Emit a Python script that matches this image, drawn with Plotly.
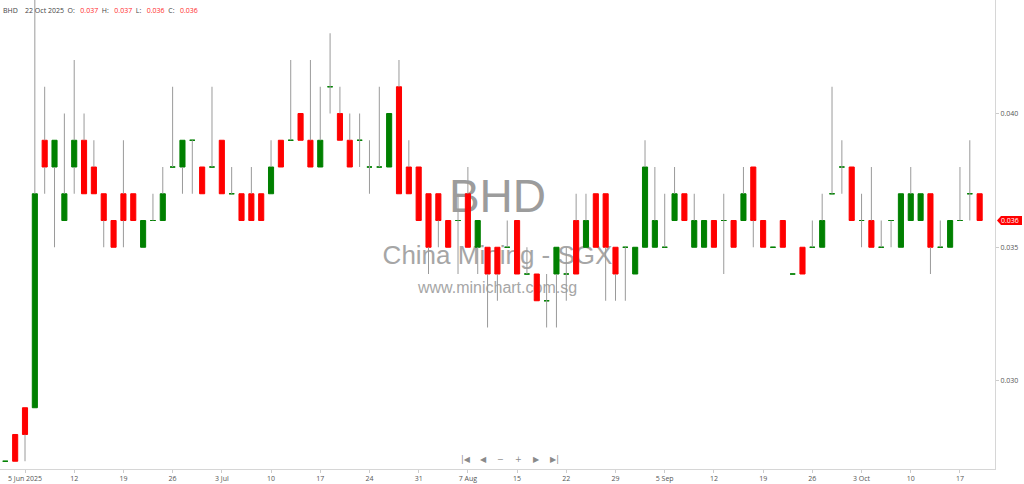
import pandas as pd
import plotly.graph_objects as go

# ---------------- data: BHD daily OHLC, 3 Jun - 22 Oct 2025 ----------------
holidays = ["2025-08-11", "2025-10-20"]
dates = pd.bdate_range("2025-06-03", "2025-10-22", freq="C", holidays=holidays).strftime("%Y-%m-%d").tolist()

open_ = [
    .027, .028, .029, .029, .039, .038, .036, .038, .039, .038,
    .037, .036, .037, .037, .035, .036, .036, .038, .038, .039,
    .038, .038, .039, .037, .037, .037, .037, .037, .039, .039,
    .040, .039, .038, .041, .040, .039, .039, .038, .038, .038,
    .041, .038, .038, .037, .037, .036, .036, .037, .035, .035,
    .035, .035, .036, .034, .034, .033, .034, .034, .036, .035,
    .037, .037, .035, .035, .034, .035, .035, .035, .036, .037,
    .035, .035, .036, .036, .036, .036, .038, .036, .035, .036,
    .034, .035, .035, .035, .037, .038, .038, .036, .036, .035,
    .036, .035, .036, .036, .037, .035, .035, .036, .037, .037,
]
high = [
    .027, .028, .029, .045, .041, .039, .040, .042, .040, .039,
    .037, .036, .039, .037, .036, .037, .038, .041, .039, .039,
    .038, .041, .039, .038, .037, .038, .037, .039, .039, .042,
    .040, .042, .041, .043, .041, .040, .040, .039, .041, .040,
    .042, .039, .038, .037, .037, .036, .037, .038, .036, .035,
    .035, .036, .036, .035, .034, .034, .035, .035, .037, .037,
    .037, .037, .035, .035, .035, .039, .038, .037, .038, .037,
    .037, .036, .036, .037, .036, .038, .038, .036, .035, .036,
    .034, .035, .036, .037, .041, .039, .038, .037, .038, .036,
    .036, .037, .038, .037, .037, .036, .036, .038, .039, .037,
]
low = [
    .027, .027, .027, .029, .037, .035, .036, .037, .037, .037,
    .035, .035, .035, .036, .035, .036, .036, .038, .037, .037,
    .037, .038, .037, .037, .036, .036, .036, .037, .038, .039,
    .039, .038, .038, .040, .039, .038, .038, .037, .038, .038,
    .037, .037, .036, .034, .035, .035, .034, .035, .034, .032,
    .033, .035, .034, .034, .033, .032, .032, .033, .034, .035,
    .035, .033, .033, .033, .034, .035, .035, .035, .036, .036,
    .035, .035, .035, .034, .035, .036, .035, .035, .035, .035,
    .034, .034, .035, .035, .037, .037, .036, .035, .035, .035,
    .035, .035, .036, .036, .034, .035, .035, .036, .036, .036,
]
close = [
    .027, .027, .028, .037, .038, .039, .037, .039, .037, .037,
    .036, .035, .036, .036, .036, .036, .037, .038, .039, .039,
    .037, .038, .037, .037, .036, .036, .036, .038, .038, .039,
    .039, .038, .039, .041, .039, .038, .039, .038, .038, .040,
    .037, .037, .036, .035, .036, .035, .036, .035, .036, .034,
    .034, .035, .034, .034, .033, .033, .035, .034, .034, .036,
    .035, .035, .034, .035, .035, .038, .036, .035, .037, .036,
    .036, .036, .035, .036, .035, .037, .036, .035, .035, .035,
    .034, .034, .035, .036, .037, .038, .036, .036, .035, .035,
    .036, .037, .037, .037, .035, .035, .036, .036, .037, .036,
]

tick_dates = ["2025-06-05", "2025-06-12", "2025-06-19", "2025-06-26", "2025-07-03",
              "2025-07-10", "2025-07-17", "2025-07-24", "2025-07-31", "2025-08-07",
              "2025-08-15", "2025-08-22", "2025-08-29", "2025-09-05", "2025-09-12",
              "2025-09-19", "2025-09-26", "2025-10-03", "2025-10-10", "2025-10-17"]
tick_labels = ["5 Jun 2025", "12", "19", "26", "3 Jul", "10", "17", "24", "31", "7 Aug",
               "15", "22", "29", "5 Sep", "12", "19", "26", "3 Oct", "10", "17"]
price_ticks = [0.030, 0.035, 0.040]

symbol = "BHD"
watermark = ["BHD", "China Mining - SGX", "www.minichart.com.sg"]

RED = "#ff0000"
GREEN = "#008000"
WICK = "#9a9a9a"
FONT = "Open Sans"

df = pd.DataFrame({"date": dates, "o": open_, "h": high, "l": low, "c": close})
df["top"] = df[["o", "c"]].max(axis=1)
df["bot"] = df[["o", "c"]].min(axis=1)

fig = go.Figure()

# watermark on the base axes, so the candles (overlay axes) sit on top of it
fig.add_trace(go.Scatter(
    x=[0.5, 0.5, 0.5], y=[0.572, 0.452, 0.384], text=watermark, mode="text",
    textposition="middle center", xaxis="x", yaxis="y", hoverinfo="skip", showlegend=False,
    textfont=dict(family="Liberation Sans", size=[46, 26, 16], color=["#9c9c9c", "#a6a6a6", "#a6a6a6"]),
))

# ---------------- bodies (two traces so colour follows close vs open) ----------------
for is_up, col in [(True, GREEN), (False, RED)]:
    sub = df[(df["c"] >= df["o"]) == is_up]
    fig.add_trace(go.Candlestick(
        x=sub["date"], open=sub["o"], high=sub["top"], low=sub["bot"], close=sub["c"],
        xaxis="x2", yaxis="y2", showlegend=False, hoverinfo="skip",
        increasing=dict(line=dict(color=col, width=1), fillcolor=col),
        decreasing=dict(line=dict(color=col, width=1), fillcolor=col),
    ))

# ---------------- wicks (only the part outside the body) ----------------
wx, wy = [], []
for _, r in df.iterrows():
    if r["h"] > r["top"]:
        wx += [r["date"], r["date"], None]
        wy += [r["top"], r["h"], None]
    if r["l"] < r["bot"]:
        wx += [r["date"], r["date"], None]
        wy += [r["l"], r["bot"], None]
fig.add_trace(go.Scatter(x=wx, y=wy, mode="lines", line=dict(color=WICK, width=1),
                         xaxis="x2", yaxis="y2", hoverinfo="skip", showlegend=False))

# ---------------- header line ----------------
last_day = pd.Timestamp(dates[-1]).strftime("%-d %b %Y")
sp = "\u00a0"
val = "<span style='color:#ff2a2a'>{:.3f}</span>"
header = (f"{symbol}{sp*4}{last_day}{sp*2}O:{sp*3}" + val.format(open_[-1]) +
          f"{sp*2}H:{sp*3}" + val.format(high[-1]) +
          f"{sp*2}L:{sp*3}" + val.format(low[-1]) +
          f"{sp*2}C:{sp*3}" + val.format(close[-1]))

annotations = [dict(text=header, xref="paper", yref="paper", x=0, y=1, xanchor="left", yanchor="top",
                    xshift=1, yshift=-4, showarrow=False, font=dict(family=FONT, size=7, color="#444"))]

# navigation buttons along the bottom
for glyph, xp in zip(["|◀", "◀", "−", "+", "▶", "▶|"], [0.4688, 0.4859, 0.5035, 0.5216, 0.5392, 0.5573]):
    annotations.append(dict(text=glyph, xref="paper", yref="paper", x=xp, y=0.0203,
                            xanchor="center", yanchor="middle", showarrow=False,
                            font=dict(family="DejaVu Sans", size=8, color="#8a8a8a")))

# last price tag on the right axis
annotations.append(dict(text=f"{close[-1]:.3f}", xref="paper", yref="y2", x=1, y=close[-1],
                        xanchor="left", yanchor="middle", xshift=4, showarrow=False,
                        font=dict(family=FONT, size=7, color="white")))

shapes = [dict(type="path", xref="paper", yref="y2", xsizemode="pixel", ysizemode="pixel",
               xanchor=1, yanchor=close[-1], path="M 2,0 L 6,4.5 L 27,4.5 L 27,-4.5 L 6,-4.5 Z",
               fillcolor=RED, line=dict(width=0), layer="above")]

fig.update_layout(
    width=1024, height=484,
    margin=dict(l=0, r=29, t=0, b=15),
    paper_bgcolor="white", plot_bgcolor="white",
    showlegend=False, hovermode=False, boxgap=0.26,
    font=dict(family=FONT, size=7, color="#555"),
    xaxis=dict(visible=False, range=[0, 1], fixedrange=True),
    yaxis=dict(visible=False, range=[0, 1], fixedrange=True),
    xaxis2=dict(overlaying="x", anchor="y2", type="category", range=[-0.54, 100.56],
                categoryorder="array", categoryarray=dates,
                tickvals=tick_dates, ticktext=tick_labels, showgrid=False, zeroline=False,
                showline=True, linecolor="#d6d6d6", linewidth=1,
                ticks="outside", ticklen=3, tickcolor="#cccccc",
                tickfont=dict(family=FONT, size=7, color="#555"),
                rangeslider=dict(visible=False)),
    yaxis2=dict(overlaying="y", anchor="x2", side="right", range=[0.02671, 0.044243],
                tickvals=price_ticks, tickformat=".3f", showgrid=False, zeroline=False,
                showline=True, linecolor="#d6d6d6", linewidth=1,
                ticks="outside", ticklen=3, tickcolor="#cccccc",
                tickfont=dict(family=FONT, size=7, color="#555")),
    annotations=annotations,
    shapes=shapes,
)

# page body has a default 8px margin; drop it so the figure fills the window
fig.write_html("out.html", config={"displayModeBar": False},
               post_script="document.body.style.margin = '0';")
